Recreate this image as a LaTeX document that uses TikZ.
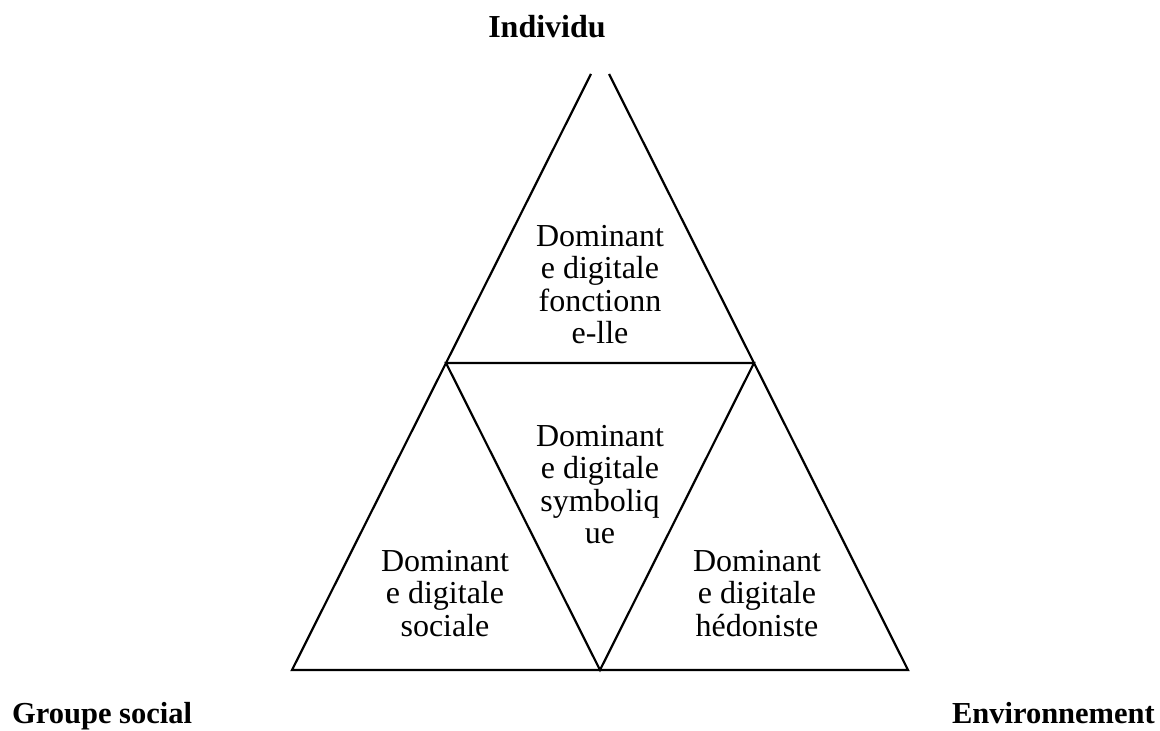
\documentclass[tikz,border=0pt]{standalone}
\usepackage{fontspec}
\setmainfont{Liberation Serif}
\usetikzlibrary{calc}
\begin{document}
\begin{tikzpicture}[x=1pt,y=-1pt,
  edge/.style={line width=2.2pt},
  pole/.style={font=\fontsize{30.5}{34}\selectfont\bfseries, inner sep=0pt},
  zone/.style={font=\fontsize{32}{32.5}\selectfont, align=center, inner sep=0pt, anchor=north}]
  \useasboundingbox (0,0) rectangle (1160,731);
  % corners of the large triangle and midpoints of its sides
  \coordinate (A) at (600,56);
  \coordinate (L) at (292,670);
  \coordinate (R) at (908,670);
  \coordinate (ML) at ($(A)!0.5!(L)$);
  \coordinate (MR) at ($(A)!0.5!(R)$);
  \coordinate (B) at ($(L)!0.5!(R)$);
  % the apex is left open
  \coordinate (Al) at ($(A)!0.0293!(L)$);
  \coordinate (Ar) at ($(A)!0.0293!(R)$);
  \draw[edge] (Al) -- (L) -- (R) -- (Ar);
  \draw[edge] (ML) -- (MR) -- (B) -- cycle;
  % poles
  \node[pole, font=\fontsize{32}{34}\selectfont\bfseries, anchor=base] (ind) at (547,37) {Individu};
  \node[pole, anchor=base west] (grp) at (12,723) {Groupe social};
  \node[pole, anchor=base east] (env) at (1155,723) {Environnement};
  % the four zones
  \node[zone] (fon) at (600,225) {Dominant\\e digitale\\fonctionn\\e-lle};
  \node[zone] (sym) at (600,425) {Dominant\\e digitale\\symboliq\\ue};
  \node[zone] (soc) at (445,550) {Dominant\\e digitale\\sociale};
  \node[zone] (hed) at (757,550) {Dominant\\e digitale\\hédoniste};
\end{tikzpicture}
\end{document}
